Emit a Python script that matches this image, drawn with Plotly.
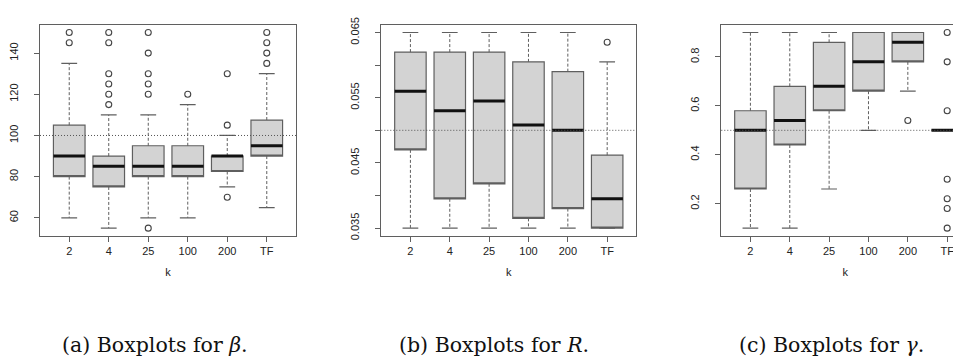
import plotly.graph_objects as go

# ---------------- data ----------------
categories = ["2", "4", "25", "100", "200", "TF"]

beta_lower = [60, 55, 60, 60, 75, 65]
beta_q1 = [80, 75, 80, 80, 82.5, 90]
beta_median = [90, 85, 85, 85, 90, 95]
beta_q3 = [105, 90, 95, 95, 90, 107.5]
beta_upper = [135, 110, 110, 115, 100, 130]
beta_outliers = [[150, 145], [150, 145, 130, 125, 120, 115],
                 [150, 140, 130, 125, 120, 55], [120], [130, 105, 70],
                 [150, 145, 140, 135]]
beta_ref = 100

R_lower = [0.035, 0.035, 0.035, 0.035, 0.035, 0.035]
R_q1 = [0.047, 0.0395, 0.0418, 0.0365, 0.038, 0.035]
R_median = [0.056, 0.053, 0.0545, 0.0508, 0.050, 0.0395]
R_q3 = [0.062, 0.062, 0.062, 0.0605, 0.059, 0.0462]
R_upper = [0.065, 0.065, 0.065, 0.065, 0.065, 0.0605]
R_outliers = [[], [], [], [], [], [0.0635]]
R_ref = 0.05

gamma_lower = [0.1, 0.1, 0.26, 0.5, 0.66, 0.5]
gamma_q1 = [0.26, 0.44, 0.58, 0.66, 0.78, 0.5]
gamma_median = [0.5, 0.54, 0.68, 0.78, 0.86, 0.5]
gamma_q3 = [0.58, 0.68, 0.86, 0.9, 0.9, 0.5]
gamma_upper = [0.9, 0.9, 0.9, 0.9, 0.9, 0.5]
gamma_outliers = [[], [], [], [], [0.54], [0.9, 0.78, 0.58, 0.3, 0.22, 0.18, 0.1]]
gamma_ref = 0.5

beta_ticks = [60, 80, 100, 120, 140]
beta_ticktext = ["60", "80", "100", "120", "140"]
R_ticks = [0.035, 0.040, 0.045, 0.050, 0.055, 0.060, 0.065]
R_ticktext = ["0.035", "", "0.045", "", "0.055", "", "0.065"]
gamma_ticks = [0.2, 0.4, 0.6, 0.8]
gamma_ticktext = ["0.2", "0.4", "0.6", "0.8"]

captions = ["(a) Boxplots for <i>β</i>.", "(b) Boxplots for <i>R</i>.",
            "(c) Boxplots for <i>γ</i>."]

# ---------------- styling ----------------
W, H = 961, 356
BOX_FILL = "#d3d3d3"
EDGE = "#5f5f5f"
FONT = "Liberation Sans, Arial, sans-serif"
BOXW = 0.8
STAPLE = 0.4

panels = [
    dict(lo=beta_lower, q1=beta_q1, med=beta_median, q3=beta_q3, hi=beta_upper,
         out=beta_outliers, ref=beta_ref, ticks=beta_ticks, ticktext=beta_ticktext,
         px=(32, 288), xr=[0.26, 6.74], yr=[51.2, 153.8], cap_x=147),
    dict(lo=R_lower, q1=R_q1, med=R_median, q3=R_q3, hi=R_upper,
         out=R_outliers, ref=R_ref, ticks=R_ticks, ticktext=R_ticktext,
         px=(373.3, 628.3), xr=[0.26, 6.74], yr=[0.0338, 0.0662], cap_x=485.5),
    dict(lo=gamma_lower, q1=gamma_q1, med=gamma_median, q3=gamma_q3, hi=gamma_upper,
         out=gamma_outliers, ref=gamma_ref, ticks=gamma_ticks, ticktext=gamma_ticktext,
         px=(713.3, 961), xr=[0.26, 0.26 + (961 - 713.3) / (255.0 / 6.48)],
         yr=[0.068, 0.932], cap_x=823.8),
]

positions = list(range(1, len(categories) + 1))
ydom = [1 - 228 / H, 1 - 10 / H]

fig = go.Figure()
shapes = []
annotations = []

for k, p in enumerate(panels):
    sfx = "" if k == 0 else str(k + 1)
    xa, ya = "x" + sfx, "y" + sfx

    # box bodies
    fig.add_trace(go.Box(
        x=positions, q1=p["q1"], median=p["q1"], q3=p["q3"],
        lowerfence=p["q1"], upperfence=p["q3"], width=BOXW, whiskerwidth=0,
        fillcolor=BOX_FILL, line=dict(color=EDGE, width=1.2),
        boxpoints=False, xaxis=xa, yaxis=ya, showlegend=False, hoverinfo="skip"))

    # whiskers (dashed)
    wx, wy = [], []
    for i, pos in enumerate(positions):
        wx += [pos, pos, None, pos, pos, None]
        wy += [p["q3"][i], p["hi"][i], None, p["q1"][i], p["lo"][i], None]
    fig.add_trace(go.Scatter(x=wx, y=wy, mode="lines",
                             line=dict(color=EDGE, width=1, dash="3px,2px"),
                             xaxis=xa, yaxis=ya, showlegend=False, hoverinfo="skip"))
    # staples
    sx, sy = [], []
    for i, pos in enumerate(positions):
        for v in (p["hi"][i], p["lo"][i]):
            sx += [pos - STAPLE / 2, pos + STAPLE / 2, None]
            sy += [v, v, None]
    fig.add_trace(go.Scatter(x=sx, y=sy, mode="lines",
                             line=dict(color=EDGE, width=1.2),
                             xaxis=xa, yaxis=ya, showlegend=False, hoverinfo="skip"))
    # medians (thick)
    mx, my = [], []
    for i, pos in enumerate(positions):
        mx += [pos - BOXW / 2, pos + BOXW / 2, None]
        my += [p["med"][i], p["med"][i], None]
    fig.add_trace(go.Scatter(x=mx, y=my, mode="lines",
                             line=dict(color="#111111", width=3),
                             xaxis=xa, yaxis=ya, showlegend=False, hoverinfo="skip"))
    # outliers
    ox, oy = [], []
    for i, pos in enumerate(positions):
        for v in p["out"][i]:
            ox.append(pos)
            oy.append(v)
    fig.add_trace(go.Scatter(x=ox, y=oy, mode="markers",
                             marker=dict(symbol="circle-open", size=6, color="#444444",
                                         line=dict(width=1.1)),
                             xaxis=xa, yaxis=ya, showlegend=False, hoverinfo="skip"))

    # reference line
    shapes.append(dict(type="line", xref=xa + " domain", x0=0, x1=1,
                       yref=ya, y0=p["ref"], y1=p["ref"],
                       line=dict(color="#555555", width=1, dash="1px,2px"), layer="above"))

    xdom = [p["px"][0] / W, p["px"][1] / W]
    fig.layout["xaxis" + sfx] = dict(
        domain=xdom, anchor=ya, range=p["xr"], tickvals=positions, ticktext=categories,
        showline=True, linecolor=EDGE, linewidth=1, mirror=True,
        ticks="outside", ticklen=5, tickcolor=EDGE, showgrid=False, zeroline=False,
        tickfont=dict(family=FONT, size=11, color="#222222"),
        title=dict(text="k", font=dict(family=FONT, size=11, color="#222222"), standoff=12),
        fixedrange=True)
    fig.layout["yaxis" + sfx] = dict(
        domain=ydom, anchor=xa, range=p["yr"], tickvals=p["ticks"], ticktext=p["ticktext"],
        showline=True, linecolor=EDGE, linewidth=1, mirror=(k < 2),
        ticks="outside", ticklen=5, tickcolor=EDGE, showgrid=False, zeroline=False,
        tickangle=-90, ticklabelstandoff=12,
        tickfont=dict(family=FONT, size=11, color="#222222"),
        fixedrange=True)

    annotations.append(dict(text=captions[k], xref="paper", yref="paper",
                            x=p["cap_x"] / W, y=1 - 341 / H, xanchor="center",
                            yanchor="middle", showarrow=False,
                            font=dict(family="DejaVu Serif, serif", size=20.5,
                                      color="#111111")))

fig.update_layout(width=W, height=H, margin=dict(l=0, r=0, t=0, b=0),
                  paper_bgcolor="white", plot_bgcolor="white",
                  boxmode="overlay", shapes=shapes, annotations=annotations,
                  showlegend=False)

fig.write_html("out.html")
